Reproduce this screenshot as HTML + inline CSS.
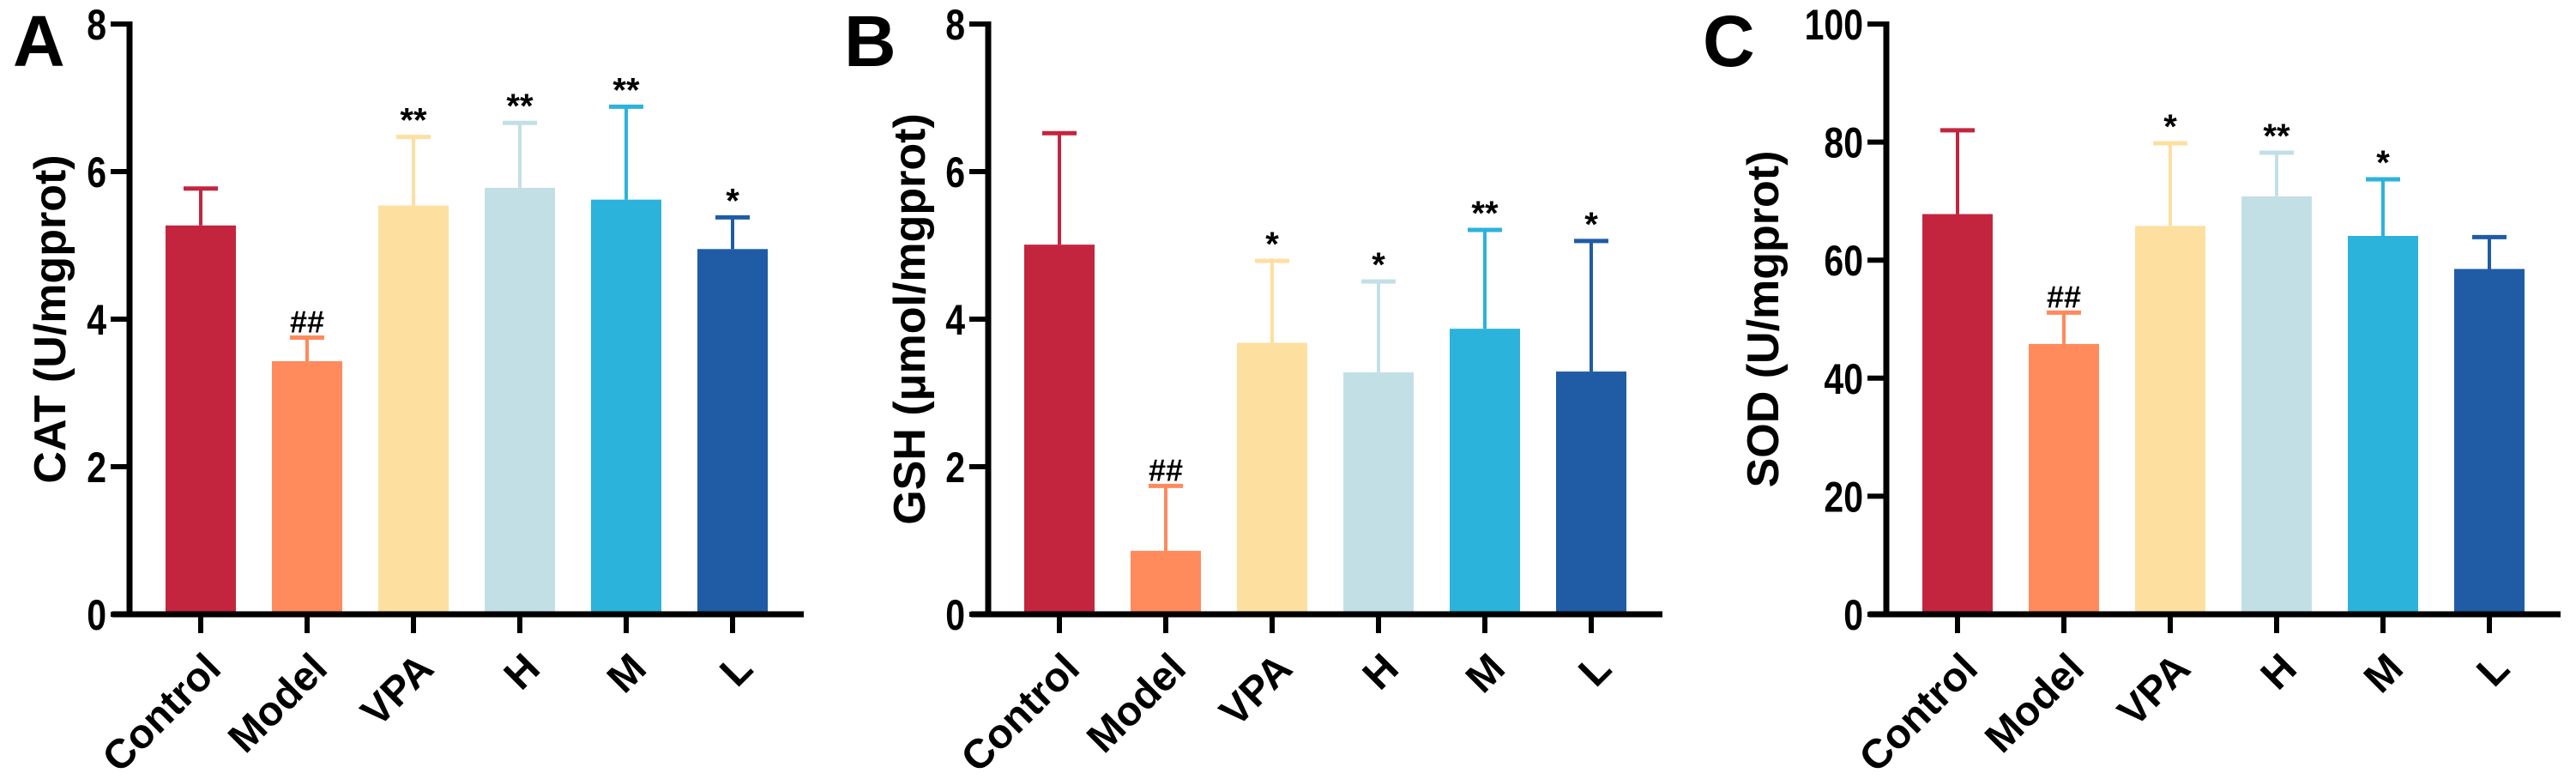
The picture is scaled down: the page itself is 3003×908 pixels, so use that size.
<!DOCTYPE html>
<html><head><meta charset="utf-8"><style>
html,body{margin:0;padding:0;background:#fff}
svg{display:block}
text{font-family:"Liberation Sans",Arial,sans-serif;font-weight:bold;fill:#000}
</style></head><body>
<svg id="chart" width="3003" height="908" viewBox="0 0 3003 908" xmlns="http://www.w3.org/2000/svg"></svg>
<script>
const categories = ["Control","Model","VPA","H","M","L"];
const colors = ["#C3253F","#FF8A5C","#FDDFA0","#C3DFE6","#2BB3DB","#1F5CA5"];
const catMeans = [5.27,3.43,5.54,5.78,5.62,4.95];
const catErrors = [0.50,0.32,0.93,0.88,1.26,0.43];
const catMarks = ["","##","**","**","**","*"];
const catTicks = [0,2,4,6,8];
const gshMeans = [5.01,0.86,3.68,3.28,3.87,3.29];
const gshErrors = [1.51,0.88,1.11,1.23,1.34,1.77];
const gshMarks = ["","##","*","*","**","*"];
const gshTicks = [0,2,4,6,8];
const sodMeans = [67.8,45.8,65.8,70.8,64.1,58.5];
const sodErrors = [14.2,5.3,14.0,7.4,9.6,5.4];
const sodMarks = ["","##","*","**","*",""];
const sodTicks = [0,20,40,60,80,100];

const NS="http://www.w3.org/2000/svg";
const svg=document.getElementById('chart');
function mk(tag,attrs,parent){const e=document.createElementNS(NS,tag);for(const k in attrs)e.setAttribute(k,attrs[k]);(parent||svg).appendChild(e);return e;}

function panel(letter,letterX,axisX,title,means,errs,marks,ticks,titleX,key){
  const g=mk('g',{});
  
  
  const y0=716,yTop=28,maxV=ticks[ticks.length-1];
  const y=v=>y0-(v/maxV)*(y0-yTop);
  const pitch=124,first=axisX+83,bw=82;
  const x=i=>first+i*pitch;
  const lt=mk('text',{x:letterX,y:77,'font-size':84},g);lt.textContent=letter;
  
  
  means.forEach((m,i)=>{
    const top=y(m+errs[i]);
    const el=mk('line',{x1:x(i),x2:x(i),y1:y(m),y2:top,stroke:colors[i],'stroke-width':4},g);
    
    
    const cap=mk('line',{x1:x(i)-20,x2:x(i)+20,y1:top,y2:top,stroke:colors[i],'stroke-width':5},g);
    
    
    const r=mk('rect',{x:x(i)-bw/2,y:y(m),width:bw,height:y0-y(m),fill:colors[i]},g);
    
    
    if(marks[i]){
      const t=mk('text',{x:x(i),y:top-6,'text-anchor':'middle','font-size':marks[i][0]=='#'?36:40},g);
      t.textContent=marks[i];
      
      
    }
    const tk=mk('line',{x1:x(i),x2:x(i),y1:y0,y2:y0+22,stroke:'#000','stroke-width':6},g);
    
    
    const lx=x(i)+26,ly=782;
    const tl=mk('text',{x:lx,y:ly,'text-anchor':'end','font-size':48,transform:`rotate(-45 ${lx} ${ly})`},g);
    tl.textContent=categories[i];
    
    
  });
  const ya=mk('line',{x1:axisX,x2:axisX,y1:yTop-3,y2:y0+3,stroke:'#000','stroke-width':7},g);
  
  
  const xa=mk('line',{x1:axisX-20,x2:axisX+786,y1:y0,y2:y0,stroke:'#000','stroke-width':7},g);
  
  
  ticks.forEach(tv=>{
    const l=mk('line',{x1:axisX-22,x2:axisX,y1:y(tv),y2:y(tv),stroke:'#000','stroke-width':6},g);
    
    
    const tx=axisX-27,ty=y(tv)+18;
    const t=mk('text',{x:0,y:0,'text-anchor':'end','font-size':50,transform:`translate(${tx} ${ty}) scale(0.82 1)`},g);
    t.textContent=tv;
    
    
  });
  const yt=mk('text',{x:titleX,y:372,'text-anchor':'middle','font-size':52,transform:`rotate(-90 ${titleX} 372)`},g);
  yt.textContent=title;
  
  
}
panel('A',15,151,'CAT (U/mgprot)',catMeans,catErrors,catMarks,catTicks,76,'cat');
panel('B',984,1152,'GSH (μmol/mgprot)',gshMeans,gshErrors,gshMarks,gshTicks,1078,'gsh');
panel('C',1985,2199,'SOD (U/mgprot)',sodMeans,sodErrors,sodMarks,sodTicks,2073,'sod');
</script>
</body></html>
